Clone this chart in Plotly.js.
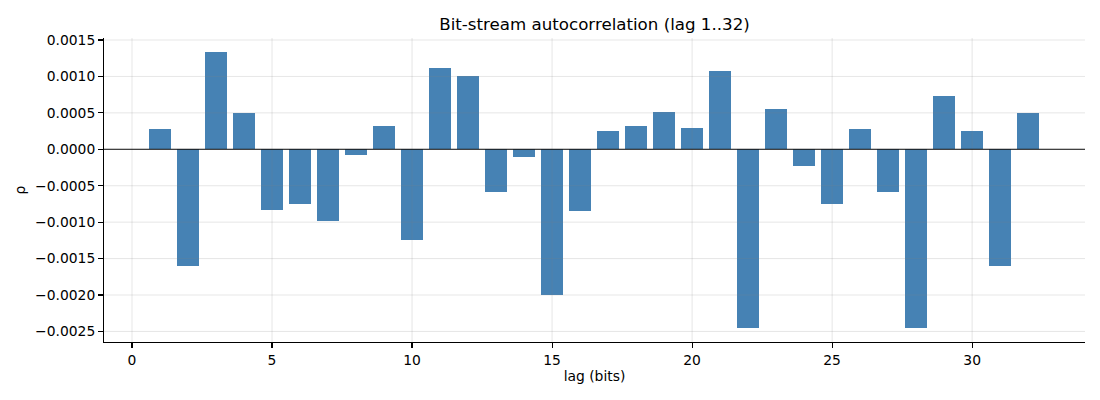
<!DOCTYPE html>
<html>
<head>
<meta charset="utf-8">
<script src="https://cdn.plot.ly/plotly-3.0.1.min.js"></script>
<style>html,body{margin:0;padding:0;background:#fff;}#chart{width:1100px;height:400px;}</style>
</head>
<body>
<div id="chart"></div>
<script>
// Data
const lags = [1,2,3,4,5,6,7,8,9,10,11,12,13,14,15,16,17,18,19,20,21,22,23,24,25,26,27,28,29,30,31,32];
const rho = [0.000274,-0.00160,0.00134,0.000493,-0.00083,-0.00075,-0.00098,-0.000078,0.000315,-0.00125,
             0.00111,0.00101,-0.00059,-0.00011,-0.00200,-0.00085,0.000247,0.000315,0.000507,0.000288,
             0.00108,-0.00245,0.000548,-0.000233,-0.000753,0.000274,-0.000589,-0.00245,0.000726,0.000247,
             -0.00160,0.000493];
const xTicks = [0,5,10,15,20,25,30];
const yTicks = [-0.0025,-0.0020,-0.0015,-0.0010,-0.0005,0,0.0005,0.0010,0.0015];

const gridColor = 'rgba(128,128,128,0.2)';
const shapes = [];
xTicks.forEach(v => shapes.push({type:'line', xref:'x', yref:'paper', x0:v, x1:v, y0:0, y1:1,
  line:{color:gridColor, width:1}, layer:'above'}));
yTicks.forEach(v => shapes.push({type:'line', xref:'paper', yref:'y', x0:0, x1:1, y0:v, y1:v,
  line:{color:gridColor, width:1}, layer:'above'}));
shapes.push({type:'line', xref:'paper', yref:'y', x0:0, x1:1, y0:0, y1:0,
  line:{color:'#111', width:1}, layer:'above'});

const trace = {
  type:'bar', x:lags, y:rho, width:0.8,
  marker:{color:'#4682b4', line:{width:0}},
  hoverinfo:'x+y'
};

const font = {family:'"DejaVu Sans", sans-serif', size:13.89, color:'#000'};
const layout = {
  width:1100, height:400,
  margin:{l:104, r:15, t:38, b:58},
  paper_bgcolor:'#fff', plot_bgcolor:'#fff',
  font:font,
  showlegend:false,
  title:{text:'Bit-stream autocorrelation (lag 1..32)', font:{family:font.family, size:16.67, color:'#000'},
         x:0.5, xref:'paper', y:1, yref:'paper', yanchor:'bottom', pad:{b:8}},
  xaxis:{range:[-1,34.03], tickvals:xTicks, ticktext:xTicks.map(String),
         showgrid:false, zeroline:false, showline:true, linecolor:'#000', linewidth:1.1,
         ticks:'outside', ticklen:4.86, tickwidth:1.1, tickcolor:'#000',
         tickfont:font, title:{text:'lag (bits)', font:font, standoff:4}},
  yaxis:{range:[-0.002645,0.0015274], tickvals:yTicks, tickformat:'.4f',
         showgrid:false, zeroline:false, showline:true, linecolor:'#000', linewidth:1.1,
         ticks:'outside', ticklen:4.86, tickwidth:1.1, tickcolor:'#000',
         tickfont:font, title:{text:'ρ', font:font, standoff:6}},
  shapes:shapes,
  bargap:0
};
Plotly.newPlot('chart', [trace], layout, {displayModeBar:false, staticPlot:true});
</script>
</body>
</html>
